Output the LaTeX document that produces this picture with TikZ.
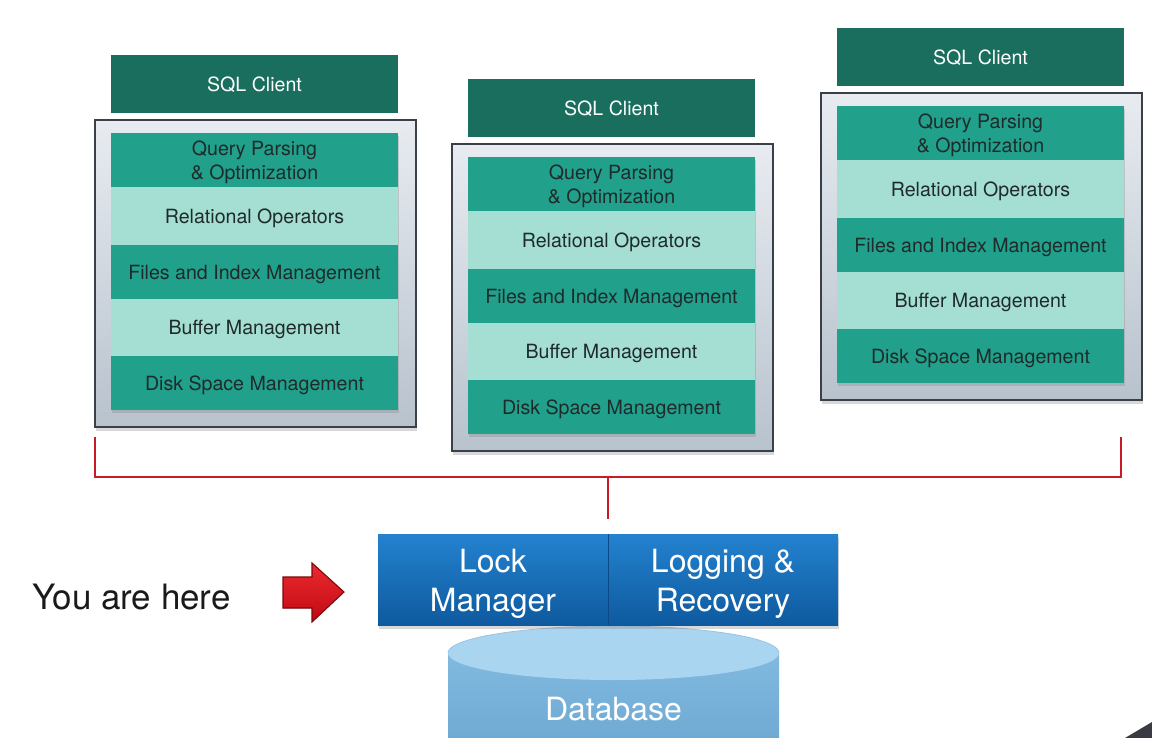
\documentclass[tikz,border=0pt]{standalone}
\usepackage{fontspec}
\setmainfont{TeX Gyre Heros}
\usetikzlibrary{shadows}
\definecolor{clientc}{HTML}{1A6E5E}
\definecolor{rowdark}{HTML}{21A08C}
\definecolor{rowlight}{HTML}{A5DED3}
\definecolor{rowtext}{HTML}{1F2B2A}
\definecolor{framedraw}{HTML}{3A4048}
\definecolor{frametop}{HTML}{E8ECF1}
\definecolor{framebot}{HTML}{B8C2CD}
\definecolor{linkred}{HTML}{CA1A26}
\definecolor{boxtop}{HTML}{2482CE}
\definecolor{boxbot}{HTML}{0E5A9F}
\definecolor{boxline}{HTML}{0B4A86}
\definecolor{dbbody}{HTML}{80BAE0}
\definecolor{dbbodyb}{HTML}{6FA9D3}
\definecolor{dbtop}{HTML}{AAD5F0}
\definecolor{arrowtop}{HTML}{EC2A2F}
\definecolor{arrowbot}{HTML}{C00A14}
\definecolor{arrowdraw}{HTML}{7A0A0E}
\definecolor{herec}{HTML}{1A1A1A}
\definecolor{cornerc}{HTML}{3A3A42}
\newcommand\rowfont{\fontsize{14.7}{18}\selectfont}
\newcommand\bigfont{\fontsize{24}{29.5}\selectfont}
\def\celldrop{0pt}
\tikzset{
  box/.style={inner sep=0pt, outer sep=0pt, /utils/exec={\def\celldrop{0pt}}},
  frame/.style={box, draw=framedraw, line width=0.9pt, top color=frametop, bottom color=framebot,
    drop shadow={opacity=0.3, shadow xshift=1pt, shadow yshift=-3pt}},
  client/.style={box, fill=clientc, text=white, font=\rowfont, /utils/exec={\def\celldrop{-2.2pt}}},
  rowgroup/.style={box, fill=rowdark, drop shadow={opacity=0.3, shadow xshift=1pt, shadow yshift=-2pt}},
  rowd/.style={box, fill=rowdark, text=rowtext, font=\rowfont, /utils/exec={\def\celldrop{-1.7pt}}},
  rowl/.style={box, fill=rowlight, text=rowtext, font=\rowfont, /utils/exec={\def\celldrop{-1.7pt}}},
  link/.style={draw=linkred, line width=2.2pt, line join=miter},
  blue/.style={box, top color=boxtop, bottom color=boxbot, text=white, font=\bigfont, /utils/exec={\def\celldrop{-3.6pt}}},
  bluegroup/.style={box, fill=boxbot, drop shadow={opacity=0.3, shadow xshift=1pt, shadow yshift=-3pt}},
  plain/.style={box, text=herec, font=\fontsize{26.2}{30}\selectfont},
}
% \cell{style}{name}{x1}{y1}{x2}{y2}{text}  (pixel coordinates)
\newcommand\cell[7]{%
  \node[#1, minimum width={((#5)-(#3))*0.75pt}, minimum height={((#6)-(#4))*0.75pt}]
    (#2) at ({((#3)+(#5))/2},{((#4)+(#6))/2})
    {\raisebox{\celldrop}[\height][\depth]{\begin{tabular}{@{}c@{}}#7\end{tabular}}};}
% #1 prefix, #2 frame left, #3 client top
\newcommand\sqlstack[3]{%
  \cell{frame}{#1f}{#2}{#3+65}{#2+321}{#3+372}{}
  \cell{client}{#1c}{#2+16}{#3}{#2+303}{#3+58}{SQL Client}
  \cell{rowgroup}{#1g}{#2+16}{#3+78}{#2+303}{#3+355}{}
  \cell{rowd}{#1q}{#2+16}{#3+78}{#2+303}{#3+132}{Query Parsing\\\& Optimization}
  \cell{rowl}{#1r}{#2+16}{#3+132}{#2+303}{#3+190}{Relational Operators}
  \cell{rowd}{#1i}{#2+16}{#3+190}{#2+303}{#3+244}{Files and Index Management}
  \cell{rowl}{#1b}{#2+16}{#3+244}{#2+303}{#3+301}{Buffer Management}
  \cell{rowd}{#1d}{#2+16}{#3+301}{#2+303}{#3+355}{Disk Space Management}
}
\begin{document}
\begin{tikzpicture}[x=0.75pt, y=-0.75pt]
  \useasboundingbox (0,0) rectangle (1152,738);
  \clip (0,0) rectangle (1152,738);
  \fill[white] (0,0) rectangle (1152,738);

  % three DBMS stacks
  \sqlstack{a}{95}{55}
  \sqlstack{b}{452}{79}
  \sqlstack{c}{821}{28}

  % red connector
  \coordinate (tl) at (95,437);
  \coordinate (tr) at (1121,437);
  \coordinate (jn) at (608,477);
  \coordinate (jd) at (608,519);
  \draw[link] (tl) |- (jn) -| (tr);
  \draw[link] (jn) -- (jd);

  % database cylinder
  \shade[top color=dbbody, bottom color=dbbodyb] (448,653) rectangle (779,745);
  \fill[dbtop] (613.5,653) ellipse [x radius=165.5, y radius=27];
  \draw[dbbodyb!70!white, line width=0.6pt] (448,653) arc[start angle=180, end angle=360, x radius=165.5, y radius=27];
  \node[box, text=white, font=\bigfont] (db) at (613.5,709) {Database};

  % lock manager / logging
  \cell{bluegroup}{bg}{378}{534}{838}{625}{}
  \cell{blue}{lock}{378}{534}{608}{625}{Lock\\Manager}
  \cell{blue}{log}{608}{534}{838}{625}{Logging \&\\Recovery}
  \draw[boxline, line width=0.6pt] (lock.north east) -- (lock.south east);

  % you are here
  \node[plain] (here) at (131.5,597) {You are here};
  \filldraw[top color=arrowtop, bottom color=arrowbot, draw=arrowdraw, line width=0.8pt, line join=miter]
    (283,577) -- (312,577) -- (312,563) -- (344,592) -- (312,622) -- (312,608) -- (283,608) -- cycle;

  % corner artefact
  \fill[cornerc] (1125,738) -- (1152,722) -- (1152,738) -- cycle;
\end{tikzpicture}
\end{document}
